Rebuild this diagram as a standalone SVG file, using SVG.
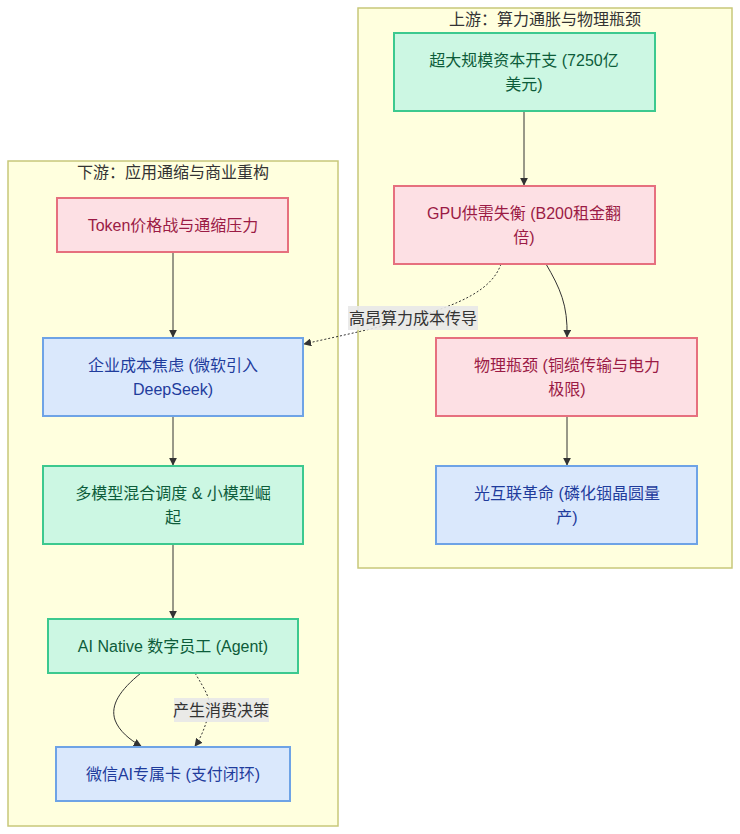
<svg xmlns="http://www.w3.org/2000/svg" width="740" height="834" viewBox="0 0 740 834">
<style>
text{font-family:"Liberation Sans","Noto Sans CJK SC",sans-serif;font-size:16px;text-anchor:middle}
.cluster{fill:#ffffde;stroke:#c8c87a;stroke-width:1.5}
.ctitle{fill:#333}
.green rect{fill:#ccf7e3;stroke:#3cc98f;stroke-width:2}
.green text{fill:#0d5c3a}
.pink rect{fill:#fde0e4;stroke:#e6707e;stroke-width:2}
.pink text{fill:#9b1b45}
.blue rect{fill:#dae8fc;stroke:#6ea3e6;stroke-width:2}
.blue text{fill:#1f3c9c}
.edge{fill:none;stroke:#333;stroke-width:1}
.dot{stroke-dasharray:2,2}
.lbl{fill:#e8e8e8;opacity:0.9}
.ltxt{fill:#333}
</style>
<defs>
<marker id="arr" viewBox="0 0 10 10" refX="9" refY="5" markerWidth="8" markerHeight="8" markerUnits="userSpaceOnUse" orient="auto">
<path d="M0,0 L10,5 L0,10 z" fill="#333"/>
</marker>
</defs>
<g id="upstream">
<rect class="cluster" x="358" y="8" width="374" height="560"/>
<text class="ctitle" x="545" y="25">上游：算力通胀与物理瓶颈</text>
</g>
<g id="downstream">
<rect class="cluster" x="8" y="161" width="330" height="665"/>
<text class="ctitle" x="173" y="178">下游：应用通缩与商业重构</text>
</g>
<g id="edges">
<path class="edge" d="M524,111 L524,185" marker-end="url(#arr)"/>
<path class="edge" d="M546,264 C560,288 568,305 567,337" marker-end="url(#arr)"/>
<path class="edge" d="M567,416 L567,465" marker-end="url(#arr)"/>
<path class="edge dot" d="M501,264 C492,290 460,304 413,318 C370,330 330,338 304,344" marker-end="url(#arr)"/>
<path class="edge" d="M173,252 L173,337" marker-end="url(#arr)"/>
<path class="edge" d="M173,416 L173,465" marker-end="url(#arr)"/>
<path class="edge" d="M173,544 L173,618" marker-end="url(#arr)"/>
<path class="edge" d="M141,673 C120,690 110,705 115,720 C119,731 130,740 141,746" marker-end="url(#arr)"/>
<path class="edge dot" d="M195,673 C205,690 212,700 209,712 C206,725 201,738 195,746" marker-end="url(#arr)"/>
<rect class="lbl" x="348" y="306" width="130" height="24"/>
<text class="ltxt" x="413" y="324">高昂算力成本传导</text>
<rect class="lbl" x="174" y="698" width="95" height="24"/>
<text class="ltxt" x="221" y="716">产生消费决策</text>
</g>
<g id="capex" class="green">
<rect x="394" y="33" width="261" height="78"/>
<text x="524" y="66">超大规模资本开支 (7250亿</text>
<text x="524" y="90">美元)</text>
</g>
<g id="gpu" class="pink">
<rect x="394" y="186" width="261" height="78"/>
<text x="524" y="219">GPU供需失衡 (B200租金翻</text>
<text x="524" y="243">倍)</text>
</g>
<g id="physical" class="pink">
<rect x="436" y="338" width="261" height="78"/>
<text x="567" y="371">物理瓶颈 (铜缆传输与电力</text>
<text x="567" y="395">极限)</text>
</g>
<g id="optical" class="blue">
<rect x="436" y="466" width="261" height="78"/>
<text x="567" y="499">光互联革命 (磷化铟晶圆量</text>
<text x="567" y="523">产)</text>
</g>
<g id="token" class="pink">
<rect x="57" y="198" width="231" height="54"/>
<text x="173" y="231">Token价格战与通缩压力</text>
</g>
<g id="enterprise" class="blue">
<rect x="43" y="338" width="260" height="78"/>
<text x="173" y="371">企业成本焦虑 (微软引入</text>
<text x="173" y="395">DeepSeek)</text>
</g>
<g id="multimodel" class="green">
<rect x="43" y="466" width="260" height="78"/>
<text x="173" y="499">多模型混合调度 &amp; 小模型崛</text>
<text x="173" y="523">起</text>
</g>
<g id="agent" class="green">
<rect x="48" y="619" width="250" height="54"/>
<text x="173" y="652">AI Native 数字员工 (Agent)</text>
</g>
<g id="wechat" class="blue">
<rect x="56" y="747" width="234" height="54"/>
<text x="173" y="780">微信AI专属卡 (支付闭环)</text>
</g>
</svg>
